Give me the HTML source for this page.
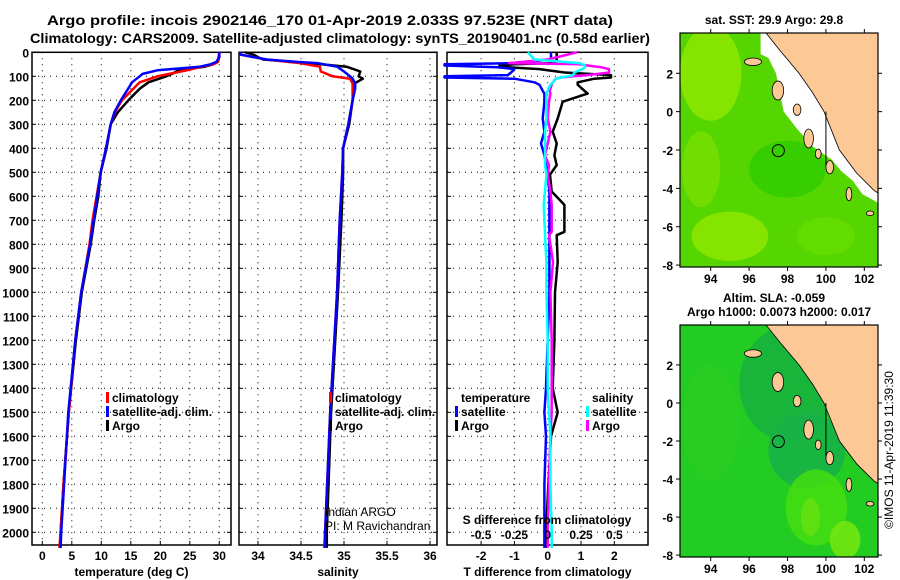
<!DOCTYPE html>
<html><head><meta charset="utf-8"><style>
html,body{margin:0;padding:0;background:#fff;}
svg{display:block;font-family:"Liberation Sans",sans-serif;font-weight:bold;}
</style></head><body>
<svg id="c" width="900" height="580" viewBox="0 0 900 580" xmlns="http://www.w3.org/2000/svg">
<text x="330" y="25" font-size="14" text-anchor="middle" textLength="566" lengthAdjust="spacingAndGlyphs">Argo profile: incois 2902146_170 01-Apr-2019 2.033S 97.523E (NRT data)</text>
<text x="340" y="43" font-size="14" text-anchor="middle" textLength="620" lengthAdjust="spacingAndGlyphs">Climatology: CARS2009. Satellite-adjusted climatology: synTS_20190401.nc (0.58d earlier)</text>
<text x="774" y="24" font-size="12" text-anchor="middle">sat. SST: 29.9 Argo: 29.8</text>
<text x="774" y="302" font-size="12" text-anchor="middle">Altim. SLA: -0.059</text>
<text x="779" y="316" font-size="12" text-anchor="middle">Argo h1000: 0.0073 h2000: 0.017</text>
<text transform="translate(893,450) rotate(-90)" font-size="12" font-weight="normal" text-anchor="middle">©IMOS 11-Apr-2019 11:39:30</text>
<g id="g"></g>
</svg>
<script>
// ---- data ----
const tempDepths = [0,20,40,50,60,75,90,100,125,150,200,250,300,400,500,600,700,800,1000,1200,1500,1800,2000,2065];
const tempClim   = [30,30,29.8,29,27,24.5,21.5,19.5,16.5,15.5,13.5,12.3,11.6,10.8,9.9,9.2,8.5,8.0,6.6,5.6,4.5,3.6,3.1,2.9];
const tempSat    = [30,30,29.5,28.5,26.7,19.5,17,16.5,15.2,14.6,13.3,12.2,11.6,10.8,9.9,9.3,8.7,8.1,6.6,5.6,4.4,3.7,3.2,3.1];
const tempArgo   = [30,29.9,29.7,29,27.5,23,22,21,18,16.6,14.6,12.8,11.6,10.9,9.9,9.5,8.8,8.2,6.7,5.7,4.5,3.6,3.1,3.0];
const salDepths  = [0,10,20,30,40,45,60,80,100,110,130,150,200,300,400,500,700,1000,1500,2000,2065];
const salClim    = [33.79,33.8,33.95,34.1,34.35,34.49,34.72,34.73,34.87,35.07,35.1,35.1,35.1,35.05,34.99,34.98,34.95,34.92,34.84,34.78,34.77];
const salSat     = [33.79,33.8,33.95,34.1,34.45,34.69,34.92,35.0,35.07,35.1,35.13,35.13,35.1,35.05,34.99,34.98,34.95,34.92,34.84,34.78,34.78];
const salArgo    = [33.85,33.95,34.0,34.06,34.41,34.6,35.03,35.19,35.17,35.22,35.12,35.12,35.1,35.06,34.99,34.99,34.97,34.93,34.85,34.8,34.8];
const diffDepths = [0,30,45,50,55,62,70,84,95,100,105,110,125,135,160,172,206,276,331,380,429,470,510,580,636,748,762,874,1000,1200,1400,1500,1600,1800,2000,2065];
const dTsat  = [0.1,0.1,-1,-3.1,-3.1,-1.5,-1.0,-1.1,-1.2,-3.1,-3.1,-1.0,-0.4,-0.25,-0.15,-0.1,-0.1,-0.15,-0.1,-0.2,-0.1,-0.05,0,0.05,0.05,0.05,0.05,0.05,0.05,0,-0.05,-0.1,-0.05,-0.1,-0.1,-0.1];
const dTargo = [0.27,0.27,0.2,-1.0,-1.45,-1.2,-0.25,0.5,1.9,1.9,1.9,1.4,0.9,0.9,1.1,1.2,0.45,0.3,0.15,0.27,0.2,0.27,0.07,0.12,0.5,0.5,0.27,0.3,0.22,0.2,0.15,0.3,0.1,0.02,-0.05,-0.05];
const dSargo = [0.22,0.0,-0.29,0.24,0.3,0.4,0.46,0.46,0.3,0.19,0.1,0.06,0.04,0.03,0.015,0.02,0.01,0.0,0.02,0.0,-0.02,0.01,0.0,0.02,0.03,0.03,0.01,0.04,0.02,0.03,0.03,0.03,0.02,0.01,0.0,0.0];
const dSsat  = [-0.15,-0.1,0.24,0.26,0.28,0.28,0.26,0.2,0.19,0.15,0.1,0.06,0.04,0.02,0.0,-0.01,-0.01,-0.01,-0.02,-0.02,-0.02,-0.02,-0.01,-0.02,-0.03,-0.02,-0.02,-0.01,-0.01,0.0,0.0,0.01,0.02,0.02,0.03,0.03];
const depthTicks = [0,100,200,300,400,500,600,700,800,900,1000,1100,1200,1300,1400,1500,1600,1700,1800,1900,2000];
const tempTicks = [0,5,10,15,20,25,30];
const salTicks = [34,34.5,35,35.5,36];
const tdTicks = [-2,-1,0,1,2];
const sdTicks = [-0.5,-0.25,0,0.25,0.5];
const sdTickLabels = ['-0.5','-0.25','0','0.25','0.5'];
const lonTicks = [94,96,98,100,102];
const latTicks = [2,0,-2,-4,-6,-8];
const argoLon = 97.523, argoLat = -2.033;

// ---- scales ----
const Y0=52.3, Y1=545;
const yD = d => Y0 + d*0.24;
const xT = t => 42.3 + t*5.9;
const xS = s => 258 + (s-34)*86;
const xTd = v => 547.7 + v*33.3;
const xSd = v => 547.7 + v*133.2;
const NS='http://www.w3.org/2000/svg';
const G=document.getElementById('g');
function mk(tag, attrs, parent){const e=document.createElementNS(NS,tag);for(const k in attrs)e.setAttribute(k,attrs[k]);(parent||G).appendChild(e);return e;}
function txt(x,y,s,size,anchor,parent,weight){const t=mk('text',{x:x,y:y,'font-size':size,'text-anchor':anchor||'start'},parent);if(weight)t.setAttribute('font-weight',weight);t.textContent=s;return t;}

function panel(name,x0,x1,xf,ticks,labels,xlabel){
  const g=mk('g',{});
  
  
  ticks.forEach(v=>{const x=xf(v);mk('line',{x1:x,x2:x,y1:Y0,y2:Y1,stroke:'#000','stroke-dasharray':'1 5','stroke-width':1},g);mk('line',{x1:x,x2:x,y1:Y1,y2:Y1-4,stroke:'#000'},g);});
  depthTicks.forEach(d=>{const y=yD(d);mk('line',{x1:x0,x2:x1,y1:y,y2:y,stroke:'#000','stroke-dasharray':'1 5','stroke-width':1},g);mk('line',{x1:x0,x2:x0+4,y1:y,y2:y,stroke:'#000'},g);mk('line',{x1:x1-4,x2:x1,y1:y,y2:y,stroke:'#000'},g);});
  mk('rect',{x:x0,y:Y0,width:x1-x0,height:Y1-Y0,fill:'none',stroke:'#000','stroke-width':1.5},g);
  ticks.forEach((v,i)=>{const t=txt(xf(v),560,labels[i],12,'middle',g);});
  const xl=txt((x0+x1)/2,576,xlabel,12,'middle',g);
  
  
  return g;
}
function line(name,ds,vs,xf,color,w){
  let p='';ds.forEach((d,i)=>{p+=(i?'L':'M')+xf(vs[i]).toFixed(1)+','+yD(d).toFixed(1);});
  const e=mk('path',{d:p,fill:'none',stroke:color,'stroke-width':w||2.5,'stroke-linejoin':'round'});
  
  
}
function legend(name,x,y,items){
  const g=mk('g',{});
  
  
  items.forEach((it,i)=>{const yy=y+i*14;if(it[1])mk('rect',{x:x,y:yy-10,width:3,height:11,fill:it[1]},g);txt(x+6,yy,it[0],12,'start',g);});
}

depthTicks.forEach(d=>{const t=txt(29,yD(d)+5,String(d),12,'end');});

panel('temperature-panel',32,231,xT,tempTicks,tempTicks.map(String),'temperature (deg C)');
panel('salinity-panel',239,437,xS,salTicks,['34','34.5','35','35.5','36'],'salinity');
panel('difference-panel',447,648,xTd,tdTicks,tdTicks.map(String),'T difference from climatology');

line('temp-argo',tempDepths,tempArgo,xT,'#000');
line('temp-climatology',tempDepths,tempClim,xT,'#f00');
line('temp-satellite',tempDepths,tempSat,xT,'#00f');
line('sal-argo',salDepths,salArgo,xS,'#000');
line('sal-climatology',salDepths,salClim,xS,'#f00');
line('sal-satellite',salDepths,salSat,xS,'#00f');
line('tdiff-argo',diffDepths,dTargo,xTd,'#000');
line('tdiff-satellite',diffDepths,dTsat,xTd,'#00f');
line('sdiff-argo',diffDepths,dSargo,xSd,'#f0f');
line('sdiff-satellite',diffDepths,dSsat,xSd,'#0ff');

legend('temp-legend',106,402,[['climatology','#f00'],['satellite-adj. clim.','#00f'],['Argo','#000']]);
legend('sal-legend',329,402,[['climatology','#f00'],['satellite-adj. clim.','#00f'],['Argo','#000']]);
legend('tdiff-legend',455,402,[['temperature',null],['satellite','#00f'],['Argo','#000']]);
legend('sdiff-legend',586,402,[['salinity',null],['satellite','#0ff'],['Argo','#f0f']]);
{const t=txt(325,516,'Indian ARGO',12,'start',null,'normal');}
{const t=txt(325,530,'PI: M Ravichandran',12,'start',null,'normal');}
{const t=txt(547,524,'S difference from climatology',12,'middle');}
sdTicks.forEach((v,i)=>{const t=txt(xSd(v),539,sdTickLabels[i],12,'middle');});

// ---- maps ----
function map(name,top,bottom,colors,white){
  const L=680,R=878;
  const lx=lon=>L+(lon-92.4)*19.2;
  const ly=lat=>top+(4.1-lat)*((bottom-top)/12.2);
  const g=mk('g',{});
  
  
  const cid='clip'+top;
  const cp=mk('clipPath',{id:cid},g);mk('rect',{x:L,y:top,width:R-L,height:bottom-top},cp);
  const inner=mk('g',{'clip-path':'url(#'+cid+')'},g);
  mk('rect',{x:L,y:top,width:R-L,height:bottom-top,fill:colors[0]},inner);
  colors[1].forEach(b=>mk('ellipse',{cx:lx(b[0]),cy:ly(b[1]),rx:b[2]*19.2,ry:b[3]*19,fill:b[4],opacity:0.85},inner));
  const poly=pts=>pts.map(p=>lx(p[0]).toFixed(1)+','+ly(p[1]).toFixed(1)).join(' ');
  if(white) mk('polygon',{points:poly([[96.6,4.2],[96.6,3.0],[97.0,2.8],[97.4,2.0],[97.6,1.0],[97.8,0],[98.5,-0.9],[99.3,-1.8],[100.3,-2.5],[100.8,-3.1],[101.4,-3.6],[101.9,-4.3],[102.8,-4.8],[102.8,4.2]]),fill:'#fff'},inner);
  mk('polygon',{points:poly([[96.8,4.2],[97.6,3.2],[98.6,2.0],[99.3,1.0],[99.9,0],[100.3,-1.0],[100.7,-2],[101.6,-3.2],[102.5,-4.1],[102.8,-4.3],[102.8,4.2]]),fill:'#fcc896',stroke:'#000','stroke-width':0.8},inner);
  [[96.2,2.6,0.45,0.2],[97.5,1.1,0.3,0.5],[98.5,0.1,0.2,0.3],[99.1,-1.4,0.25,0.5],[99.6,-2.2,0.15,0.25],[100.2,-2.9,0.2,0.35],[101.2,-4.3,0.15,0.35],[102.3,-5.3,0.2,0.12]].forEach(s=>{mk('ellipse',{cx:lx(s[0]),cy:ly(s[1]),rx:s[2]*19.2,ry:s[3]*19,fill:'#fcc896',stroke:'#000','stroke-width':0.8},inner);});
  mk('line',{x1:lx(100),x2:lx(100),y1:ly(0),y2:ly(-2.8),stroke:'#000','stroke-width':1},inner);
  mk('rect',{x:L,y:top,width:R-L,height:bottom-top,fill:'none',stroke:'#000','stroke-width':1.2},g);
  const c=mk('circle',{cx:lx(argoLon),cy:ly(argoLat),r:6,fill:'none',stroke:'#000','stroke-width':1},g);
  
  
  lonTicks.forEach(v=>{const x=lx(v);mk('line',{x1:x,x2:x,y1:bottom,y2:bottom+4,stroke:'#000'},g);mk('line',{x1:x,x2:x,y1:top,y2:top-4,stroke:'#000'},g);const t=txt(x,bottom+16,String(v),12,'middle',g);});
  latTicks.forEach(v=>{const y=ly(v);mk('line',{x1:L-4,x2:L,y1:y,y2:y,stroke:'#000'},g);mk('line',{x1:R,x2:R+4,y1:y,y2:y,stroke:'#000'},g);const t=txt(L-7,y+5,String(v),12,'end',g);});
}
map('sst-map',33,267,['#55d600',[[94,2,1.6,2.5,'#8ee800'],[95,-6.5,2,1.3,'#8ee800'],[98,-3,2,1.5,'#33cc00'],[93.5,-3,1,2,'#77de00'],[100,-6.5,1.5,1,'#66dd00']]],true);
map('sla-map',325,557,['#22cc22',[[98,1,2.5,3,'#18b040'],[99,-2.5,2,2,'#18b048'],[99.5,-5.5,1.6,2,'#44dd11'],[99.2,-6,0.5,1,'#66e011'],[101,-7.2,0.8,1,'#77e611'],[94,-1,1.5,3,'#2acc22']]],false);
</script>
</body></html>
